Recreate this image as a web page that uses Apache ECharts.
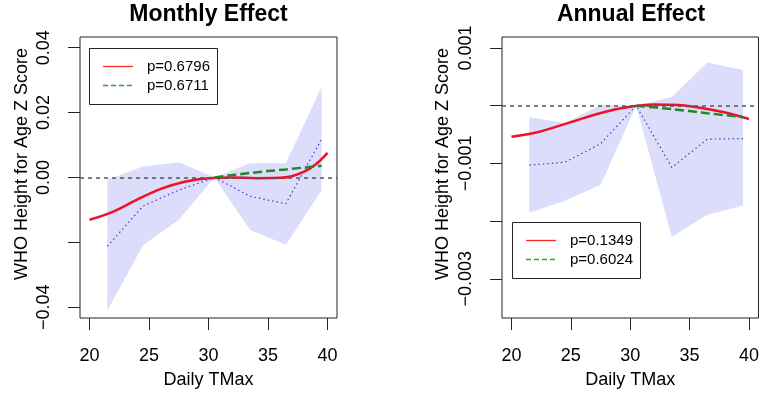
<!DOCTYPE html>
<html>
<head>
<meta charset="utf-8">
<script src="https://cdn.jsdelivr.net/npm/echarts@6/dist/echarts.min.js"></script>
<style>
  html, body { margin: 0; padding: 0; background: #fff; }
  #main { width: 762px; height: 395px; }
</style>
</head>
<body>
<div id="main"></div>
<script>
// x positions
const xTicks = [20, 25, 30, 35, 40]
const binX = [21.5, 24.5, 27.5, 30.5, 33.5, 36.5, 39.5]
const curveXMonthly = [20, 22, 24, 26, 28, 30, 32, 34, 36, 37, 38, 39, 40]
const curveXAnnual = [20, 22, 24, 26, 28, 30, 32, 34, 36, 38, 40]
const linearX = [30.5, 33.5, 36.5, 39.5]

// monthly effect
const monthlyUpper = [-0.0007, 0.0034, 0.0047, 0, 0.0044, 0.0044, 0.0278]
const monthlyLower = [-0.041, -0.0209, -0.013, 0, -0.0162, -0.0207, -0.0039]
const monthlyBin = [-0.0212, -0.0088, -0.0039, 0, -0.0058, -0.0081, 0.0118]
const monthlyCurve = [-0.013, -0.0105, -0.0068, -0.0035, -0.0013, -0.0002, 0, -0.0002, -0.0001, 0.0004, 0.0017, 0.004, 0.0076]
const monthlyLinear = [0, 0.0014, 0.0025, 0.0036]
const monthlyYTicks = [-0.04, -0.02, 0, 0.02, 0.04]
const monthlyYLabels = [-0.04, 0, 0.02, 0.04]
const monthlyP = ['p=0.6796', 'p=0.6711']

// annual effect
const annualUpper = [-0.0002, -0.0003, 0.00001, 0, 0.00015, 0.00075, 0.00062]
const annualLower = [-0.00185, -0.00165, -0.00137, 0, -0.00227, -0.00189, -0.00173]
const annualBin = [-0.00103, -0.00098, -0.00066, 0, -0.00107, -0.00058, -0.00057]
const annualCurve = [-0.00054, -0.00047, -0.00035, -0.00022, -0.0001, -0.00002, 0.00002, 0.00001, -0.00004, -0.00012, -0.00023]
const annualLinear = [0, -0.00006, -0.00013, -0.0002]
const annualYTicks = [-0.003, -0.002, -0.001, 0, 0.001]
const annualYLabels = [-0.003, -0.001, 0.001]
const annualP = ['p=0.1349', 'p=0.6024']

const FONT = '"Liberation Sans", Arial, Helvetica, sans-serif'
const RED = '#ee1128'
const GREEN = '#1f8a1f'

function fmt(digits) {
  return function (v) {
    const s = Math.abs(v).toFixed(digits)
    return v < -1e-12 ? '\u2212' + s : s
  }
}

function bandItem(upper, lower) {
  return function (params, api) {
    if (params.dataIndex !== 0) return
    const pts = []
    binX.forEach((x, i) => pts.push(api.coord([x, upper[i]])))
    for (let i = binX.length - 1; i >= 0; i--) pts.push(api.coord([binX[i], lower[i]]))
    return { type: 'polygon', shape: { points: pts }, style: { fill: '#dcdcfb' } }
  }
}

function xAxis(idx) {
  return {
    type: 'value', gridIndex: idx, min: 19.2, max: 40.8,
    splitLine: { show: false }, axisLine: { show: false, onZero: false },
    axisTick: { show: true, length: 12, customValues: xTicks, lineStyle: { color: '#222' } },
    axisLabel: { customValues: xTicks, margin: 29, fontSize: 18, color: '#000', fontFamily: FONT },
    name: 'Daily TMax', nameLocation: 'middle', nameGap: 53,
    nameTextStyle: { fontSize: 18, color: '#000', fontFamily: FONT }
  }
}

function yAxis(idx, min, max, ticks, labels, digits) {
  return {
    type: 'value', gridIndex: idx, min: min, max: max,
    splitLine: { show: false }, axisLine: { show: false, onZero: false },
    axisTick: { show: true, length: 12, customValues: ticks, lineStyle: { color: '#222' } },
    axisLabel: { customValues: labels, rotate: 90, margin: 27, fontSize: 18, color: '#000',
      fontFamily: FONT, formatter: fmt(digits) }
  }
}

function panelSeries(idx, upper, lower, bin, curveX, curve, linear) {
  return [
    {
      type: 'custom', xAxisIndex: idx, yAxisIndex: idx, z: 1, silent: true,
      renderItem: bandItem(upper, lower),
      data: binX.map((x, i) => [x, upper[i]])
    },
    {
      type: 'line', xAxisIndex: idx, yAxisIndex: idx, z: 2, showSymbol: false,
      lineStyle: { color: '#3f3fc4', width: 1.2, type: [1.5, 3] },
      data: binX.map((x, i) => [x, bin[i]]),
      markLine: {
        silent: true, symbol: 'none', label: { show: false }, animation: false,
        lineStyle: { color: '#555', width: 1.5, type: [4, 4] },
        data: [{ yAxis: 0 }]
      }
    },
    {
      type: 'line', xAxisIndex: idx, yAxisIndex: idx, z: 3, showSymbol: false, smooth: 0.4,
      lineStyle: { color: RED, width: 2.5 },
      data: curveX.map((x, i) => [x, curve[i]])
    },
    {
      type: 'line', xAxisIndex: idx, yAxisIndex: idx, z: 4, showSymbol: false, smooth: 0.3,
      lineStyle: { color: GREEN, width: 2.5, type: [9, 4] },
      data: linearX.map((x, i) => [x, linear[i]])
    }
  ]
}

function legend(x, y, labels) {
  return [
    { type: 'rect', z: 100, shape: { x: x + 0.5, y: y + 0.5, width: 128, height: 56 },
      style: { fill: '#fff', stroke: '#222', lineWidth: 1 } },
    { type: 'line', z: 101, shape: { x1: x + 14, y1: y + 18.5, x2: x + 44, y2: y + 18.5 },
      style: { stroke: '#ff2a2a', lineWidth: 1.3 } },
    { type: 'line', z: 101, shape: { x1: x + 14, y1: y + 37.5, x2: x + 44, y2: y + 37.5 },
      style: { stroke: '#2fa82f', lineWidth: 1.4, lineDash: [5, 3] } },
    { type: 'text', z: 101, x: x + 58, y: y + 19,
      style: { text: labels[0], font: '15px ' + FONT, fill: '#000', align: 'left', verticalAlign: 'middle' } },
    { type: 'text', z: 101, x: x + 58, y: y + 38,
      style: { text: labels[1], font: '15px ' + FONT, fill: '#000', align: 'left', verticalAlign: 'middle' } }
  ]
}

function label(text, x, y, size, bold, rot) {
  return {
    type: 'text', z: 100, x: x, y: y, rotation: rot || 0,
    style: { text: text, font: (bold ? 'bold ' : '') + size + 'px ' + FONT, fill: '#000',
      align: 'center', verticalAlign: 'middle' }
  }
}

const chart = echarts.init(document.getElementById('main'))
chart.setOption({
  animation: false,
  backgroundColor: '#fff',
  grid: [
    { left: 80, right: 425, top: 37, bottom: 77, show: true, borderColor: '#222', borderWidth: 1 },
    { left: 502, right: 3, top: 37, bottom: 77, show: true, borderColor: '#222', borderWidth: 1 }
  ],
  xAxis: [xAxis(0), xAxis(1)],
  yAxis: [
    yAxis(0, -0.0433, 0.0433, monthlyYTicks, monthlyYLabels, 2),
    yAxis(1, -0.00368, 0.00119, annualYTicks, annualYLabels, 3)
  ],
  series: [
    ...panelSeries(0, monthlyUpper, monthlyLower, monthlyBin, curveXMonthly, monthlyCurve, monthlyLinear),
    ...panelSeries(1, annualUpper, annualLower, annualBin, curveXAnnual, annualCurve, annualLinear)
  ],
  graphic: [
    label('Monthly Effect', 208.5, 15, 23, true),
    label('Annual Effect', 631, 15, 23, true),
    label('WHO Height for Age Z Score', 22, 164, 18, false, Math.PI / 2),
    label('WHO Height for Age Z Score', 443, 164, 18, false, Math.PI / 2),
    ...legend(89, 48, monthlyP),
    ...legend(512, 222, annualP)
  ]
})
</script>
</body>
</html>
